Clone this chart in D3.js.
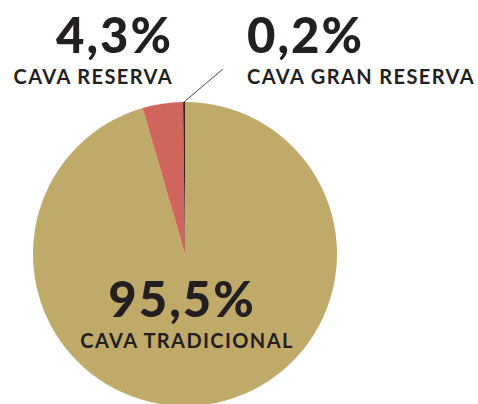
<!DOCTYPE html>
<meta charset="utf-8">
<script src="https://d3js.org/d3.v7.min.js"></script>
<style>
  body { margin: 0; background: #fff; }
  text { fill: #231f20; font-family: "Lato", sans-serif; }
</style>
<body>
<div id="chart"></div>
<script>
// data
var categories = ["CAVA TRADICIONAL", "CAVA RESERVA", "CAVA GRAN RESERVA"];
var values = [95.5, 4.3, 0.2];
var colors = ["#bfaa6a", "#cf655b", "#2b2527"];

var width = 478, height = 404;
var cx = 185, cy = 254, radius = 152;

var svg = d3.select("#chart")
  .append("svg")
    .attr("width", width)
    .attr("height", height);

var color = d3.scaleOrdinal().domain(categories).range(colors);
var fmt = d3.formatLocale({decimal: ",", thousands: ".", grouping: [3], currency: ["", "€"]}).format(".1f");

var pie = d3.pie().sort(null).value(function(d) { return d.value; });
var arc = d3.arc().innerRadius(0).outerRadius(radius);

var data = categories.map(function(c, i) { return {name: c, value: values[i]}; });
var arcs = pie(data);

var g = svg.append("g").attr("transform", "translate(" + cx + "," + cy + ")");

g.selectAll("path")
  .data(arcs)
  .enter()
  .append("path")
    .attr("d", arc)
    .style("fill", function(d) { return color(d.data.name); });

// leader line for the tiny slice
var last = arcs[2];
var mid = (last.startAngle + last.endAngle) / 2;
var p0 = [Math.sin(mid) * radius, -Math.cos(mid) * radius];
g.append("line")
  .attr("x1", p0[0]).attr("y1", p0[1])
  .attr("x2", 38).attr("y2", -185)
  .style("stroke", "#231f20")
  .style("stroke-width", 0.8);

// labels
var labels = [
  {i: 1, x: 173, anchor: "end"},
  {i: 2, x: 247, anchor: "start"},
  {i: 0, x: 182, anchor: "middle", dy: 264}
];

labels.forEach(function(l) {
  var base = l.dy || 0;
  svg.append("text")
    .attr("x", l.x)
    .attr("y", 53 + base)
    .attr("text-anchor", l.anchor)
    .style("font-size", "49px")
    .style("font-weight", 900)
    .style("letter-spacing", "2px")
    .text(fmt(values[l.i]) + "%");
  svg.append("text")
    .attr("x", l.anchor === "middle" ? l.x + 5 : l.x)
    .attr("y", 84 + base)
    .attr("text-anchor", l.anchor)
    .style("font-size", "20px")
    .style("font-weight", 700)
    .style("letter-spacing", "1.4px")
    .text(categories[l.i]);
});
</script>
</body>
